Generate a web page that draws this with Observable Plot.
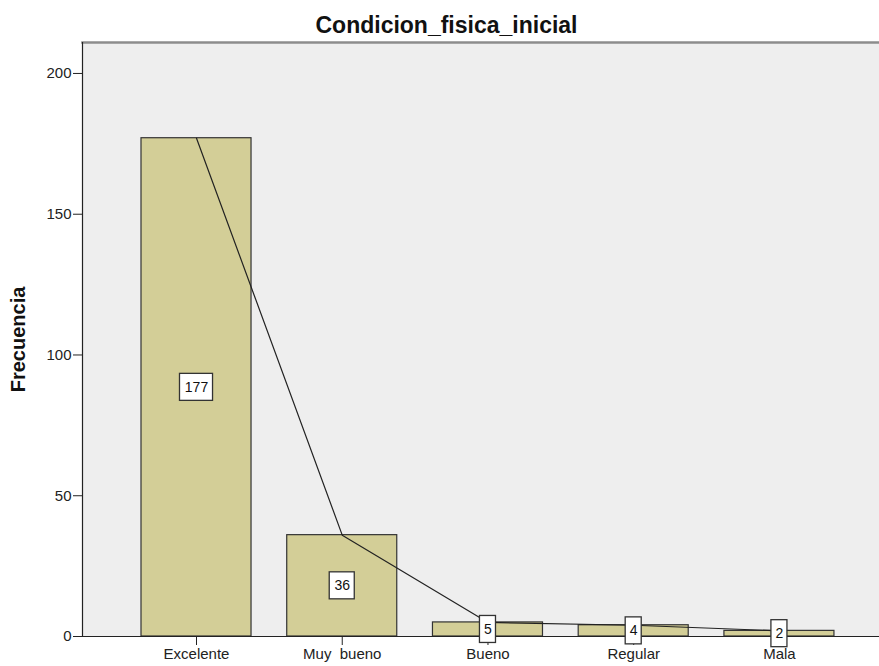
<!DOCTYPE html>
<html>
<head>
<meta charset="utf-8">
<script src="https://cdn.jsdelivr.net/npm/d3@7"></script>
<script src="https://cdn.jsdelivr.net/npm/@observablehq/plot@0.6"></script>
<style>
  body { margin: 0; background: #fff; font-family: "Liberation Sans", Arial, sans-serif; }
  #wrap { position: relative; width: 879px; height: 666px; }
  #title { position: absolute; top: 12px; left: 7px; width: 879px; text-align: center;
           font-weight: bold; font-size: 23px; color: #111; }
  svg { display: block; }
  svg text { white-space: pre; }
</style>
</head>
<body>
<div id="wrap"><div id="title">Condicion_fisica_inicial</div></div>
<script>
// Frequency of each initial fitness level
const categories = ["Excelente", "Muy  bueno", "Bueno", "Regular", "Mala"];
const counts = [177, 36, 5, 4, 2];
const yTicks = [0, 50, 100, 150, 200];
const yLabel = "Frecuencia";

const data = categories.map((c, i) => ({categoria: c, frecuencia: counts[i]}));

// Label box: a zero-height band rect at the bar's mid-height, grown by negative
// insets; its width depends on the number of digits shown.
const bandInset = {3: 38.5, 2: 42.5, 1: 47};
const labelBoxes = [3, 2, 1].map(n =>
  Plot.barY(data.filter(d => String(d.frecuencia).length === n), {
    x: "categoria",
    y1: d => d.frecuencia / 2,
    y2: d => d.frecuencia / 2,
    insetLeft: bandInset[n], insetRight: bandInset[n],
    insetTop: -13.5, insetBottom: -13.5,
    fill: "#ffffff", stroke: "#333", strokeWidth: 1.3
  })
);

const chart = Plot.plot({
  width: 879,
  height: 666,
  marginTop: 42,
  marginBottom: 30,
  marginLeft: 82,
  marginRight: 0,
  style: {fontFamily: "Liberation Sans, Arial, sans-serif", fontSize: "15px", color: "#222", background: "#fff"},
  x: {domain: categories, paddingInner: 0.245, paddingOuter: 0.357, align: 0.567, round: false},
  y: {domain: [0, 211]},
  marks: [
    Plot.frame({fill: "#eeeeee", stroke: "none"}),
    Plot.barY(data, {x: "categoria", y: "frecuencia", fill: "#d3ce97", stroke: "#333", strokeWidth: 1.2, inset: 0}),
    Plot.line(data, {x: "categoria", y: "frecuencia", stroke: "#222", strokeWidth: 1.2}),
    Plot.frame({anchor: "top", stroke: "#8c8c8c", strokeWidth: 2.5}),
    Plot.frame({anchor: "left", stroke: "#222", strokeWidth: 1.2}),
    Plot.ruleY([0], {stroke: "#222", strokeWidth: 1.2}),
    Plot.axisY({ticks: yTicks, tickSize: 9, tickPadding: 2, fontSize: 15, label: null}),
    Plot.axisX({tickSize: 9, tickPadding: 3, fontSize: 15, label: null}),
    ...labelBoxes,
    Plot.text(data, {
      x: "categoria", y: d => d.frecuencia / 2, text: d => String(d.frecuencia),
      fontSize: 14, fill: "#111"
    }),
    Plot.text([yLabel], {
      frameAnchor: "left", text: d => d, rotate: -90, dx: -64,
      textAnchor: "middle", fontWeight: "bold", fontSize: 20, fill: "#111"
    })
  ]
});

document.getElementById("wrap").appendChild(chart);
</script>
</body>
</html>
